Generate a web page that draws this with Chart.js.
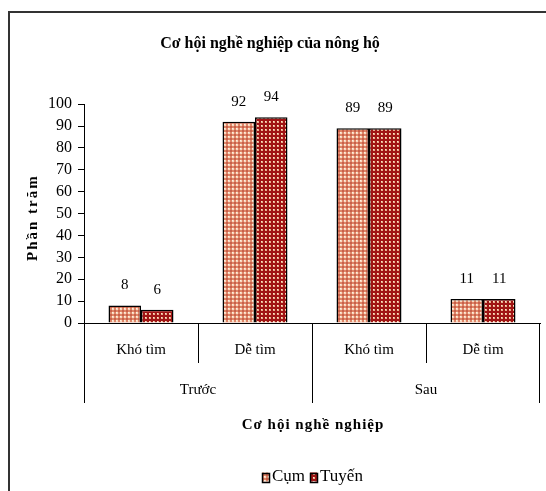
<!DOCTYPE html>
<html>
<head>
<meta charset="utf-8">
<script src="https://cdn.jsdelivr.net/npm/chart.js@4.4.0/dist/chart.umd.min.js"></script>
<style>
  html, body { margin: 0; padding: 0; background: #fff; overflow: hidden; }
  #frame { position: absolute; left: 8px; top: 11px; width: 600px; height: 600px; border: 2px solid #333; }
  #wrap { position: absolute; left: 0; top: 0; width: 546px; height: 491px; }
</style>
</head>
<body>
<div id="frame"></div>
<div id="wrap"><canvas id="c" width="546" height="491"></canvas></div>
<script>
// Job opportunity categories, grouped by period
const categories = ['Khó tìm', 'Dễ tìm', 'Khó tìm', 'Dễ tìm'];
const groups = ['Trước', 'Sau'];
const groupSpan = [2, 2];

// Percentages by household type
const cumValues = [8, 92, 89, 11];
const tuyenValues = [6, 94, 89, 11];

// Y axis ticks
const yMin = 0;
const yMax = 100;
const yStep = 10;

const SERIF = "'Liberation Serif', 'Times New Roman', serif";

function makePattern(size, draw) {
  const p = document.createElement('canvas');
  p.width = size; p.height = size;
  const g = p.getContext('2d');
  draw(g);
  return document.getElementById('c').getContext('2d').createPattern(p, 'repeat');
}

// salmon gingham
const cumPattern = makePattern(4, g => {
  g.fillStyle = '#de8668'; g.fillRect(0, 0, 4, 4);
  g.fillStyle = '#f7d8c0'; g.fillRect(0, 0, 2, 2);
  g.fillStyle = '#c8604a'; g.fillRect(2, 2, 2, 2);
  g.fillStyle = '#fff0e0'; g.fillRect(0, 0, 1, 1);
});

// dark red with cream dots
const tuyenPattern = makePattern(4, g => {
  g.fillStyle = '#a01414'; g.fillRect(0, 0, 4, 4);
  g.fillStyle = '#e8b090'; g.fillRect(1, 1, 2, 2);
  g.fillStyle = '#fde8c8'; g.fillRect(1, 1, 1, 1);
});

const valueLabels = {
  id: 'valueLabels',
  afterDatasetsDraw(chart) {
    const ctx = chart.ctx;
    ctx.save();
    ctx.font = '15px ' + SERIF;
    ctx.fillStyle = '#000';
    ctx.textAlign = 'center';
    ctx.textBaseline = 'middle';
    chart.data.datasets.forEach((ds, di) => {
      chart.getDatasetMeta(di).data.forEach((bar, i) => {
        ctx.fillText(String(ds.data[i]), bar.x, bar.y - 20);
      });
    });
    ctx.restore();
  }
};

// legend centred under the plot area, swatches filled with each series' pattern
const seriesLegend = {
  id: 'seriesLegend',
  afterDraw(chart) {
    const ctx = chart.ctx;
    const area = chart.chartArea;
    ctx.save();
    ctx.font = '17px ' + SERIF;
    ctx.textBaseline = 'middle';
    ctx.textAlign = 'left';
    const boxW = 7, boxH = 9, gapText = 3, gapItem = 5;
    const items = chart.data.datasets.map(ds => ({ ds, w: ctx.measureText(ds.label).width }));
    const total = items.reduce((s, it) => s + boxW + gapText + it.w, 0) + gapItem * (items.length - 1);
    let cx = Math.round((area.left + area.right) / 2 - total / 2);
    const cy = 477;
    items.forEach(it => {
      ctx.fillStyle = it.ds.backgroundColor;
      ctx.fillRect(cx, cy - boxH / 2, boxW, boxH);
      ctx.strokeStyle = '#000';
      ctx.lineWidth = 1.5;
      ctx.strokeRect(Math.round(cx) + 0.5, Math.round(cy - boxH / 2) + 0.5, boxW, boxH);
      cx += boxW + gapText;
      ctx.fillStyle = '#000';
      ctx.fillText(it.ds.label, cx, cy);
      cx += it.w + gapItem;
    });
    ctx.restore();
  }
};

const axisDecor = {
  id: 'axisDecor',
  afterDraw(chart) {
    const ctx = chart.ctx;
    const x = chart.scales.x;
    const area = chart.chartArea;
    const n = categories.length;
    const cw = (area.right - area.left) / n;
    ctx.save();
    ctx.strokeStyle = '#000';
    ctx.lineWidth = 1;
    // boundaries: group edges run long, inner category edges short
    const groupEdges = new Set([0]);
    let acc = 0;
    groupSpan.forEach(s => { acc += s; groupEdges.add(acc); });
    for (let i = 0; i <= n; i++) {
      const xx = i === n
        ? Math.round(x.getPixelForValue(n - 1) + cw / 2) - 0.5
        : Math.round(x.getPixelForValue(i) - cw / 2) + 0.5;
      const len = groupEdges.has(i) ? 80 : 40;
      ctx.beginPath();
      ctx.moveTo(xx, area.bottom);
      ctx.lineTo(xx, area.bottom + len);
      ctx.stroke();
    }
    // group labels
    ctx.font = '15px ' + SERIF;
    ctx.fillStyle = '#000';
    ctx.textAlign = 'center';
    ctx.textBaseline = 'middle';
    let start = 0;
    groups.forEach((gname, gi) => {
      const end = start + groupSpan[gi] - 1;
      const cx = (x.getPixelForValue(start) + x.getPixelForValue(end)) / 2;
      ctx.fillText(gname, cx, area.bottom + 67);
      start = end + 1;
    });
    // axis titles
    ctx.font = 'bold 15px ' + SERIF;
    ctx.letterSpacing = '1px';
    ctx.fillText('Cơ hội nghề nghiệp', (area.left + area.right) / 2 + 1, area.bottom + 102);
    ctx.letterSpacing = '2px';
    ctx.translate(33, (area.top + area.bottom) / 2 + 4);
    ctx.rotate(-Math.PI / 2);
    ctx.fillText('Phần trăm', 0, 0);
    ctx.restore();
  }
};

new Chart(document.getElementById('c'), {
  type: 'bar',
  data: {
    labels: categories,
    datasets: [
      { label: 'Cụm', data: cumValues, backgroundColor: cumPattern, borderColor: '#000', borderWidth: 1.5 },
      { label: 'Tuyến', data: tuyenValues, backgroundColor: tuyenPattern, borderColor: '#000', borderWidth: 1.5 }
    ]
  },
  options: {
    responsive: false,
    animation: false,
    barPercentage: 1,
    categoryPercentage: 0.57,
    layout: { padding: { top: 0, right: 6, bottom: 26, left: 0 } },
    plugins: {
      title: {
        display: true,
        text: 'Cơ hội nghề nghiệp của nông hộ',
        color: '#000',
        font: { family: SERIF, size: 16, weight: 'bold' },
        padding: { top: 34, bottom: 51 }
      },
      legend: { display: false },
      tooltip: { enabled: false }
    },
    scales: {
      x: {
        grid: { display: false },
        border: { display: true, color: '#000', width: 1 },
        ticks: { color: '#000', font: { family: SERIF, size: 15 }, padding: 10 },
        afterFit(scale) { scale.height = 142; }
      },
      y: {
        min: yMin,
        max: yMax,
        grid: { display: true, drawOnChartArea: false, drawTicks: true, tickLength: 6, color: '#000' },
        border: { display: true, color: '#000', width: 1 },
        ticks: { stepSize: yStep, autoSkip: false, color: '#000', font: { family: SERIF, size: 16 }, padding: 6 },
        afterFit(scale) { scale.width = 84; }
      }
    }
  },
  plugins: [valueLabels, axisDecor, seriesLegend]
});
</script>
</body>
</html>
